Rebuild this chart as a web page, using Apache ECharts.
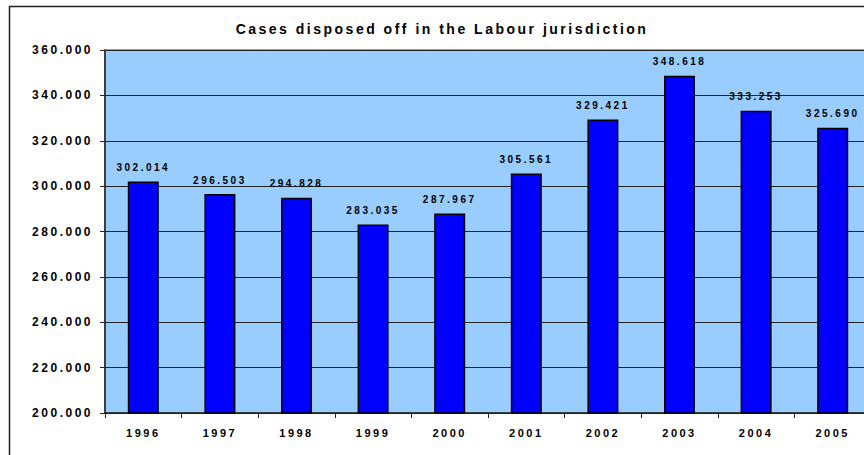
<!DOCTYPE html>
<html>
<head>
<meta charset="utf-8">
<script src="https://cdn.jsdelivr.net/npm/echarts@6/dist/echarts.min.js"></script>
<style>
  html, body { margin: 0; padding: 0; background: #fff; }
  #main { width: 864px; height: 455px; }
  /* the original has wide letter spacing on every text */
  #main text { letter-spacing: 2.5px; }
</style>
</head>
<body>
<div id="main"></div>
<script>
var years = ['1996', '1997', '1998', '1999', '2000', '2001', '2002', '2003', '2004', '2005'];
var cases = [302014, 296503, 294828, 283035, 287967, 305561, 329421, 348618, 333253, 325690];
var yMin = 200000, yMax = 360000, yStep = 20000;

// 302014 -> "302.014"
function fmt(v) {
    var s = String(Math.round(v));
    return s.replace(/\B(?=(\d{3})+(?!\d))/g, '.');
}

var myChart = echarts.init(document.getElementById('main'), null, {renderer: 'svg'});
var fontFam = '"Liberation Sans", Arial, sans-serif';

var option = {
    backgroundColor: '#fff',
    animation: false,
    title: {
        text: 'Cases disposed off in the Labour jurisdiction',
        left: 437,
        top: 17,
        textAlign: 'center',
        textStyle: {fontSize: 14, fontWeight: 'bold', color: '#000', fontFamily: fontFam}
    },
    graphic: [{
        type: 'rect',
        left: 7, top: 4,
        shape: {width: 900, height: 500},
        style: {fill: 'none', stroke: '#222', lineWidth: 1.5},
        silent: true
    }],
    grid: {
        left: 105, top: 50, right: -7, bottom: 42,
        outerBoundsMode: 'none',
        containLabel: false,
        show: true,
        backgroundColor: '#99CCFF',
        borderColor: '#808080',
        borderWidth: 1.5
    },
    xAxis: {
        type: 'category',
        data: years,
        axisLine: {lineStyle: {color: '#222', width: 1.5}},
        axisTick: {show: true, alignWithLabel: false, length: 5, lineStyle: {color: '#222'}},
        axisLabel: {color: '#000', fontSize: 11, fontWeight: 'bold', fontFamily: fontFam, margin: 14}
    },
    yAxis: {
        type: 'value',
        min: yMin, max: yMax, interval: yStep,
        axisLine: {show: true, lineStyle: {color: '#222', width: 1.5}},
        axisTick: {show: true, length: 5, lineStyle: {color: '#222'}},
        splitLine: {lineStyle: {color: '#222', width: 1}},
        axisLabel: {color: '#000', fontSize: 12, fontWeight: 'bold', fontFamily: fontFam, margin: 12,
            formatter: function (v) { return fmt(v); }}
    },
    series: [{
        type: 'bar',
        data: cases,
        barWidth: 31,
        itemStyle: {color: '#0000FF', borderColor: '#000', borderWidth: 1.5},
        label: {
            show: true, position: 'top', distance: 9,
            color: '#000', fontSize: 10, fontWeight: 'bold', fontFamily: fontFam,
            formatter: function (p) { return fmt(p.value); }
        }
    }]
};
myChart.setOption(option);
</script>
</body>
</html>
